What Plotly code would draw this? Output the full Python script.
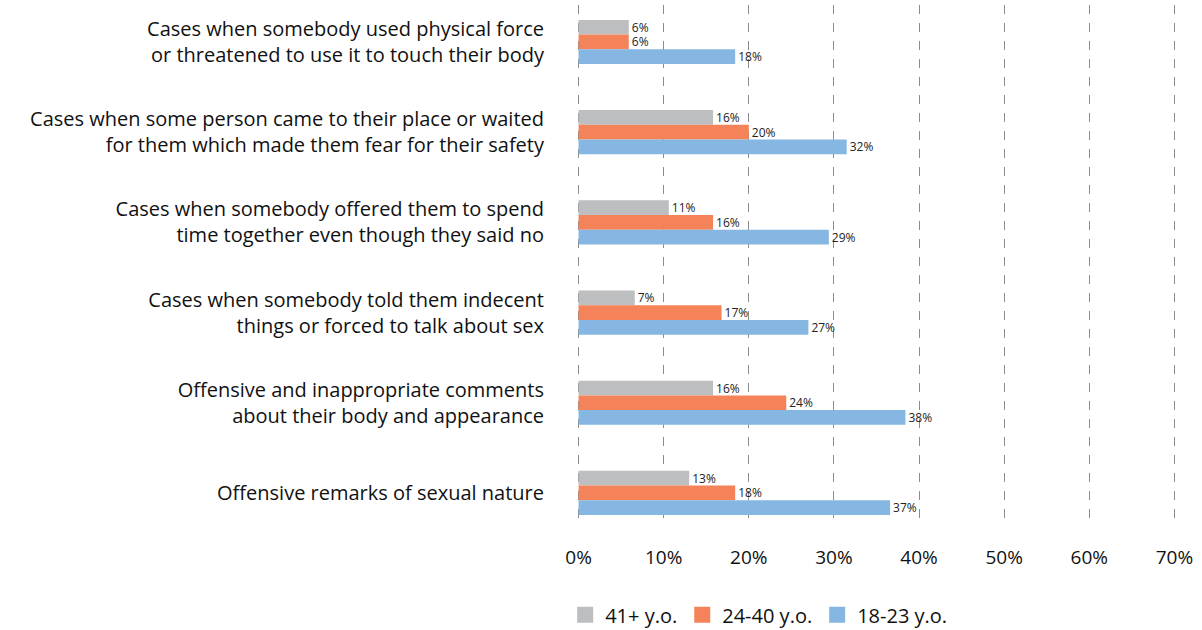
import plotly.graph_objects as go

categories = [
    "Cases when somebody used physical force<br>or threatened to use it to touch their body",
    "Cases when some person came to their place or waited<br>for them which made them fear for their safety",
    "Cases when somebody offered them to spend<br>time together even though they said no",
    "Cases when somebody told them indecent<br>things or forced to talk about sex",
    "Offensive and inappropriate comments<br>about their body and appearance",
    "Offensive remarks of sexual nature",
]
age_41_plus = [0.059, 0.158, 0.106, 0.066, 0.158, 0.130]
age_24_40 = [0.059, 0.200, 0.158, 0.168, 0.244, 0.184]
age_18_23 = [0.184, 0.315, 0.294, 0.270, 0.384, 0.366]
x_ticks = [0, 0.1, 0.2, 0.3, 0.4, 0.5, 0.6, 0.7]

series = [
    ("41+ y.o.", age_41_plus, "#BDBEC0"),
    ("24-40 y.o.", age_24_40, "#F58359"),
    ("18-23 y.o.", age_18_23, "#85B7E2"),
]

fig = go.Figure()
for name, vals, color in series:
    fig.add_trace(go.Bar(
        y=categories, x=vals, name=name, orientation="h",
        marker=dict(color=color, line=dict(width=0)),
        texttemplate="%{x:.0%}", textposition="outside", constraintext="none",
        textfont=dict(size=12, color="#222222"),
        cliponaxis=False, showlegend=False,
    ))
# legend entries with bigger square swatches
for name, vals, color in series:
    fig.add_trace(go.Scatter(
        x=[None], y=[None], mode="markers", name=name,
        marker=dict(symbol="square", size=18, color=color),
    ))

fig.update_layout(
    width=1202, height=630,
    barmode="group", bargap=0.51, bargroupgap=0,
    plot_bgcolor="white", paper_bgcolor="white",
    font=dict(family="Open Sans", color="#111111"),
    margin=dict(l=576, r=25, t=5, b=110, autoexpand=False),
    legend=dict(orientation="h", x=-0.018, xanchor="left", y=-0.184, yanchor="middle",
                font=dict(size=20), traceorder="normal", itemwidth=30),
    showlegend=True,
)
fig.update_xaxes(
    range=[-0.003, 0.703], tickvals=x_ticks, tickformat=".0%",
    showgrid=True, gridcolor="#8C8C8C", griddash="dash", gridwidth=1,
    zeroline=False, showline=False, ticks="", automargin=False,
    tickfont=dict(size=19), ticklabelstandoff=24,
)
fig.update_yaxes(
    range=[5.3, -0.41], showgrid=False, zeroline=False, showline=False,
    ticks="", tickfont=dict(size=20), ticklabelstandoff=31, automargin=False,
)

fig.write_html("out.html", config={"displayModeBar": False},
               post_script="document.body.style.margin='0';")
